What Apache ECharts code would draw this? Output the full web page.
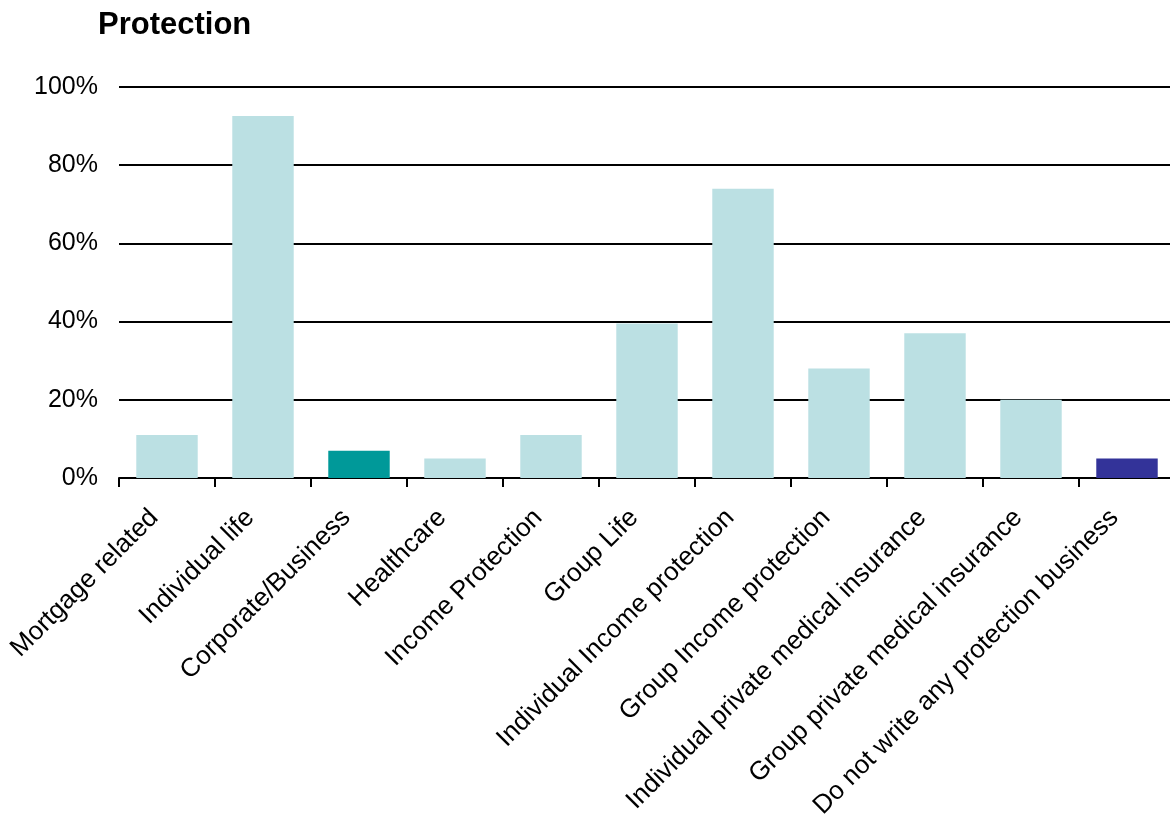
<!DOCTYPE html>
<html>
<head>
<meta charset="utf-8">
<script src="https://cdn.jsdelivr.net/npm/echarts@6/dist/echarts.min.js"></script>
<style>html,body{margin:0;padding:0;background:#fff;overflow:hidden}#c{width:1170px;height:821px}</style>
</head>
<body>
<div id="c"></div>
<script>
const categories = ["Mortgage related","Individual life","Corporate/Business","Healthcare","Income Protection","Group Life","Individual Income protection","Group Income protection","Individual private medical insurance","Group private medical insurance","Do not write any protection business"];
const values = [11, 92.6, 7, 5, 11, 39.5, 74, 28, 37, 20, 5];
const barColors = ["#BBE0E3","#BBE0E3","#009999","#BBE0E3","#BBE0E3","#BBE0E3","#BBE0E3","#BBE0E3","#BBE0E3","#BBE0E3","#333399"];
const yTicks = [0, 20, 40, 60, 80, 100];

const chart = echarts.init(document.getElementById('c'));
const font = 'Liberation Sans, Arial, Helvetica, sans-serif';
chart.setOption({
  animation: false,
  title: {text: 'Protection', left: 93, top: 5, textStyle: {fontFamily: font, fontSize: 31, fontWeight: 'bold', color: '#000'}},
  grid: {left: 119, top: 87, width: 1056, height: 391, containLabel: false, outerBoundsMode: 'none'},
  xAxis: {
    type: 'category', data: categories,
    axisLine: {lineStyle: {color: '#000', width: 2}},
    axisTick: {show: true, length: 9, lineStyle: {color: '#000', width: 2}},
    axisLabel: {rotate: 45, fontFamily: font, fontSize: 26, color: '#000', interval: 0, margin: 23, padding: [0, 18, 0, 0]}
  },
  yAxis: {
    type: 'value', min: yTicks[0], max: yTicks[yTicks.length-1], interval: 20,
    axisLine: {show: false}, axisTick: {show: false},
    splitLine: {lineStyle: {color: '#000', width: 2}},
    axisLabel: {formatter: '{value}%', fontFamily: font, fontSize: 25, color: '#000', margin: 21}
  },
  series: [{
    type: 'bar', barCategoryGap: '36%',
    data: values.map((v, i) => ({value: v, itemStyle: {color: barColors[i]}}))
  }]
});
</script>
</body>
</html>
